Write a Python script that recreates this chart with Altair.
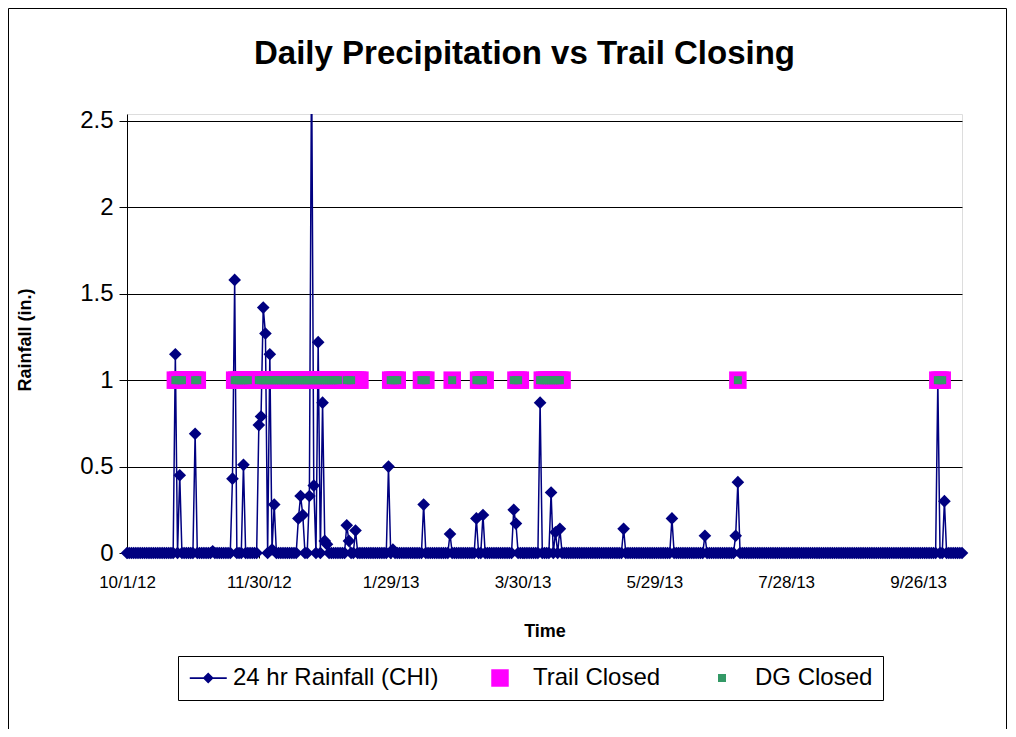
import altair as alt
import pandas as pd

# ---------------- data ----------------
period_start = "2012-10-01"
period_end = "2013-10-16"

# days with measurable 24 hr rainfall (CHI), inches; all other days are 0
rain_dates = [
    "2012-10-23", "2012-10-25", "2012-11-01", "2012-11-09", "2012-11-18", "2012-11-19",
    "2012-11-23", "2012-11-30", "2012-12-01", "2012-12-02", "2012-12-03", "2012-12-05",
    "2012-12-06", "2012-12-07", "2012-12-18", "2012-12-19", "2012-12-20", "2012-12-23",
    "2012-12-24", "2012-12-25", "2012-12-27", "2012-12-29", "2012-12-30", "2012-12-31",
    "2013-01-09", "2013-01-10", "2013-01-13", "2013-01-28", "2013-01-30", "2013-02-13",
    "2013-02-25", "2013-03-09", "2013-03-12", "2013-03-26", "2013-03-27", "2013-04-07",
    "2013-04-12", "2013-04-14", "2013-04-16", "2013-05-15", "2013-06-06", "2013-06-21",
    "2013-07-05", "2013-07-06", "2013-10-05", "2013-10-08",
]
rain_values = [
    1.15, 0.45, 0.69, 0.01, 0.43, 1.58,
    0.51, 0.74, 0.79, 1.42, 1.27, 1.15,
    0.02, 0.28, 0.20, 0.33, 0.22, 0.33,
    2.90, 0.39, 1.22, 0.87, 0.07, 0.05,
    0.16, 0.07, 0.13, 0.50, 0.02, 0.28,
    0.11, 0.20, 0.22, 0.25, 0.17, 0.87,
    0.35, 0.12, 0.14, 0.14, 0.20, 0.10,
    0.10, 0.41, 1.00, 0.30,
]

# closure periods (first day, last day), plotted at 1 for every day closed
trail_start = ["2012-10-23", "2012-11-19", "2013-01-29", "2013-02-12", "2013-02-26",
               "2013-03-10", "2013-03-27", "2013-04-08", "2013-07-06", "2013-10-05"]
trail_end = ["2012-11-02", "2013-01-15", "2013-02-01", "2013-02-14", "2013-02-26",
             "2013-03-13", "2013-03-29", "2013-04-17", "2013-07-06", "2013-10-07"]
dg_start = ["2012-10-23", "2012-11-01", "2012-11-19", "2012-11-30", "2013-01-09",
            "2013-01-29", "2013-02-12", "2013-02-26", "2013-03-09", "2013-03-26",
            "2013-04-07", "2013-07-06", "2013-10-05"]
dg_end = ["2012-10-26", "2012-11-02", "2012-11-25", "2013-01-05", "2013-01-11",
          "2013-02-01", "2013-02-14", "2013-02-26", "2013-03-12", "2013-03-28",
          "2013-04-16", "2013-07-06", "2013-10-07"]
closed_level = 1

series_names = ["24 hr Rainfall (CHI)", "Trail Closed", "DG Closed"]
series_colors = ["#000080", "#FF00FF", "#339966"]

y_ticks = [0, 0.5, 1, 1.5, 2, 2.5]
x_tick_dates = [(2012, 10, 1), (2012, 11, 30), (2013, 1, 29), (2013, 3, 30),
                (2013, 5, 29), (2013, 7, 28), (2013, 9, 26)]

# ---------------- tables ----------------
days = pd.date_range(period_start, period_end, freq="D")
rain = pd.Series(0.0, index=days)
rain.loc[pd.to_datetime(rain_dates)] = rain_values
rain_df = pd.DataFrame({"date": days.strftime("%Y-%m-%d"), "rain": rain.values})


def expand(starts, ends, name):
    rows = []
    for s, e in zip(starts, ends):
        for d in pd.date_range(s, e, freq="D"):
            rows.append({"date": d.strftime("%Y-%m-%d"), "value": closed_level, "series": name})
    return rows


closed_df = pd.DataFrame(expand(trail_start, trail_end, series_names[1])
                         + expand(dg_start, dg_end, series_names[2]))

FONT = "Liberation Sans"
W, H = 835, 439
Y_MAX = 2.54

x_scale = alt.Scale(type="utc",
                    domain=[alt.DateTime(year=2012, month=10, date=1, utc=True),
                            alt.DateTime(year=2013, month=10, date=16, utc=True)])
y_scale = alt.Scale(domain=[0, Y_MAX], nice=False, zero=False)

x_axis = alt.Axis(
    values=[alt.DateTime(year=y, month=m, date=d, utc=True) for y, m, d in x_tick_dates],
    labelExpr="utcFormat(datum.value, '%-m/%-d/%y')", labelFont=FONT, labelFontSize=17,
    labelColor="black", labelPadding=16, labelFlush=False, labelOverlap=False,
    tickSize=5, tickColor="black", domainColor="black",
    grid=False, title="Time", titleFont=FONT, titleFontSize=18, titleFontWeight="bold",
    titleColor="black", titleY=78, titleBaseline="middle",
)
y_axis = alt.Axis(
    values=y_ticks, labelExpr="datum.value + ''", labelFont=FONT, labelFontSize=24,
    labelColor="black", labelPadding=6, tickSize=8, tickColor="black", domainColor="black",
    grid=True, gridColor="black", gridWidth=1,
    title="Rainfall (in.)", titleFont=FONT, titleFontSize=18, titleFontWeight="bold",
    titleColor="black", titleAngle=-90, titleX=-102, titleY=H / 2 + 6,
    titleAlign="center", titleBaseline="middle",
)

base = alt.Chart(rain_df)
line = base.mark_line(color="#000080", strokeWidth=1.5, clip=True).encode(
    x=alt.X("date:T", scale=x_scale, axis=x_axis),
    y=alt.Y("rain:Q", scale=y_scale, axis=y_axis),
)
pts = base.transform_filter(alt.datum.rain <= Y_MAX).mark_point(
    shape="diamond", filled=True, size=160, color="#000080", opacity=1
).encode(x="date:T", y="rain:Q")

legend_path = ("M-1.17,-0.1L3.06,-0.1L3.06,0.1L-1.17,0.1Z "
               "M0.94,-0.63L1.57,0L0.94,0.63L0.31,0Z")
legend = alt.Legend(
    title=None, orient="none", legendX=51, legendY=542, direction="horizontal",
    strokeColor="black", fillColor="white", padding=10, labelFont=FONT,
    labelFontSize=24, labelColor="black", labelOffset=21, labelLimit=400,
    columnPadding=49, symbolStrokeWidth=0,
)
closed = alt.Chart(closed_df).mark_point(filled=True, opacity=1).encode(
    x="date:T",
    y="value:Q",
    color=alt.Color("series:N", scale=alt.Scale(domain=series_names, range=series_colors),
                    legend=legend),
    shape=alt.Shape("series:N", scale=alt.Scale(domain=series_names,
                                                range=[legend_path, "square", "square"]),
                    legend=legend),
    size=alt.Size("series:N", scale=alt.Scale(type="ordinal", domain=series_names,
                                              range=[306, 306, 64]),
                  legend=legend),
)

border = alt.Chart(pd.DataFrame({"k": [0]})).mark_rect(
    fillOpacity=0, stroke="black", strokeWidth=1
).encode(x=alt.value(-118.5), x2=alt.value(879.5), y=alt.value(-105.5), y2=alt.value(700))

chart = alt.layer(border, line, pts, closed).properties(
    width=W, height=H,
    title=alt.TitleParams("Daily Precipitation vs Trail Closing", font=FONT, fontSize=33,
                          fontWeight="bold", color="black", anchor="middle", offset=-63, dx=-20),
    padding={"left": 119, "top": 106, "right": 46, "bottom": 176},
    autosize=alt.AutoSizeParams(type="none"),
).configure_view(stroke=None).configure(background="white")

chart.save("out.html", embed_options={"renderer": "svg", "actions": False})
